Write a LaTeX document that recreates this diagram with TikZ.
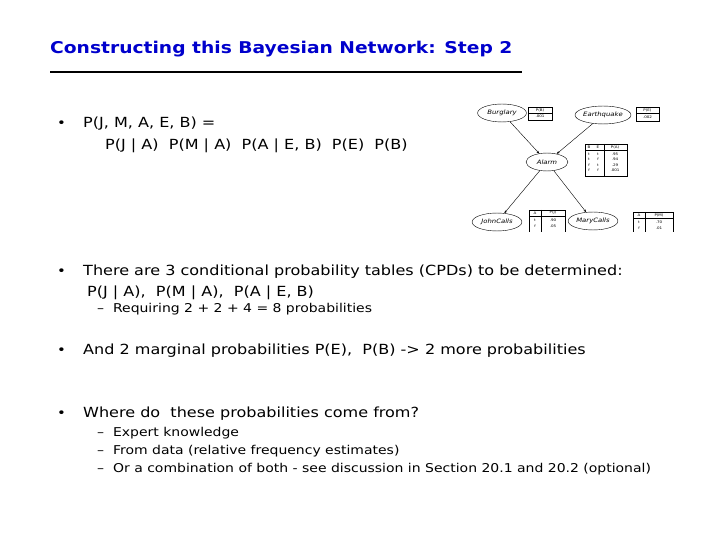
\documentclass[tikz,border=0pt]{standalone}
\usepackage{fontspec}
\setmainfont{DejaVu Sans}[FakeStretch=1.15]
\usetikzlibrary{shapes.geometric,arrows.meta}
\begin{document}
\begin{tikzpicture}[x=1bp,y=-1bp,
  txt/.style={anchor=base west,inner sep=0pt,font=\fontsize{14}{16}\selectfont},
  sub/.style={anchor=base west,inner sep=0pt,font=\fontsize{12.2}{14}\selectfont},
  bul/.style={anchor=base west,inner sep=0pt,font=\fontsize{13}{15}\selectfont},
  bn/.style={ellipse,draw,thin,inner sep=0pt,font=\fontsize{6}{7}\itshape\selectfont},
  tb/.style={inner sep=0pt,font=\fontsize{3.5}{4}\selectfont},
  arr/.style={-{Stealth[length=3pt]},thin}]
\path[use as bounding box] (0,0) rectangle (720,540);
\node[anchor=base west,inner sep=0pt,text=blue!80!black,font=\fontsize{16.3}{18}\bfseries\selectfont] (title) at (50,54) {Constructing this Bayesian Network: Step 2};
\draw[line width=1.2pt] (50,72) -- (522,72);

\node[bul] (b1) at (57,128) {•};
\node[txt] (t1) at (83,128) {P(J, M, A, E, B) =};
\node[txt] (t1b) at (105,150) {P(J | A)\ \ P(M | A)\ \ P(A | E, B)\ \ P(E)\ \ P(B)};

\node[bul] (b2) at (57,276) {•};
\node[txt] (t2) at (83,276) {There are 3 conditional probability tables (CPDs) to be determined:};
\node[txt] (t2b) at (87,296) {P(J | A),\ \ P(M | A),\ \ P(A | E, B)};
\node[sub] (s2) at (97,312) {–\ \ Requiring 2 + 2 + 4 = 8 probabilities};

\node[bul] (b3) at (57,354) {•};
\node[txt] (t3) at (83,354) {And 2 marginal probabilities P(E),\ \ P(B) -> 2 more probabilities};

\node[bul] (b4) at (57,417) {•};
\node[txt] (t4) at (83,417) {Where do\ \ these probabilities come from?};
\node[sub] (s4a) at (97,436) {–\ \ Expert knowledge};
\node[sub] (s4b) at (97,454) {–\ \ From data (relative frequency estimates)};
\node[sub] (s4c) at (97,472) {–\ \ Or a combination of both - see discussion in Section 20.1 and 20.2 (optional)};

% network
\begin{scope}
\clip (470,95) rectangle (680,232);
\node[bn,minimum width=49,minimum height=18] (B) at (502,113) {Burglary};
\node[bn,minimum width=55,minimum height=18] (E) at (603,115) {Earthquake};
\node[bn,minimum width=42,minimum height=18] (A) at (547,162) {Alarm};
\node[bn,minimum width=50,minimum height=18] (J) at (497,222) {JohnCalls};
\node[bn,minimum width=50,minimum height=18] (M) at (593,221) {MaryCalls};
\draw[arr] (B) -- (A);
\draw[arr] (E) -- (A);
\draw[arr] (A) -- (J);
\draw[arr] (A) -- (M);
% tables
\draw[thin] (528,107) rectangle (552,120); \draw[thin] (528,113) -- (552,113);
\node[tb] at (540,110) {P(B)}; \node[tb] at (540,116.5) {.001};
\draw[thin] (636,107) rectangle (659,121); \draw[thin] (636,113) -- (659,113);
\node[tb] at (647.5,110) {P(E)}; \node[tb] at (647.5,117) {.002};
\draw[thin] (585,144) rectangle (627,176); \draw[thin] (585,150) -- (627,150); \draw[thin] (604,144) -- (604,176);
\node[tb] at (589,147) {B}; \node[tb] at (598,147) {E}; \node[tb] at (615,147) {P(A)};
\foreach \i/\b/\e/\p in {0/t/t/.95,1/t/f/.94,2/f/t/.29,3/f/f/.001}{
  \node[tb] at (589,154+5.5*\i) {\b}; \node[tb] at (598,154+5.5*\i) {\e}; \node[tb] at (615,154+5.5*\i) {\p};}
\draw[thin] (529,210) rectangle (565,234); \draw[thin] (529,216) -- (565,216); \draw[thin] (541,210) -- (541,234);
\node[tb] at (535,213) {A}; \node[tb] at (553,213) {P(J)};
\node[tb] at (535,220) {t}; \node[tb] at (553,220) {.90};
\node[tb] at (535,226) {f}; \node[tb] at (553,226) {.05};
\draw[thin] (633,212) rectangle (673,234); \draw[thin] (633,218) -- (673,218); \draw[thin] (645,212) -- (645,234);
\node[tb] at (639,215) {A}; \node[tb] at (659,215) {P(M)};
\node[tb] at (639,222) {t}; \node[tb] at (659,222) {.70};
\node[tb] at (639,228) {f}; \node[tb] at (659,228) {.01};
\end{scope}
\end{tikzpicture}
\end{document}
